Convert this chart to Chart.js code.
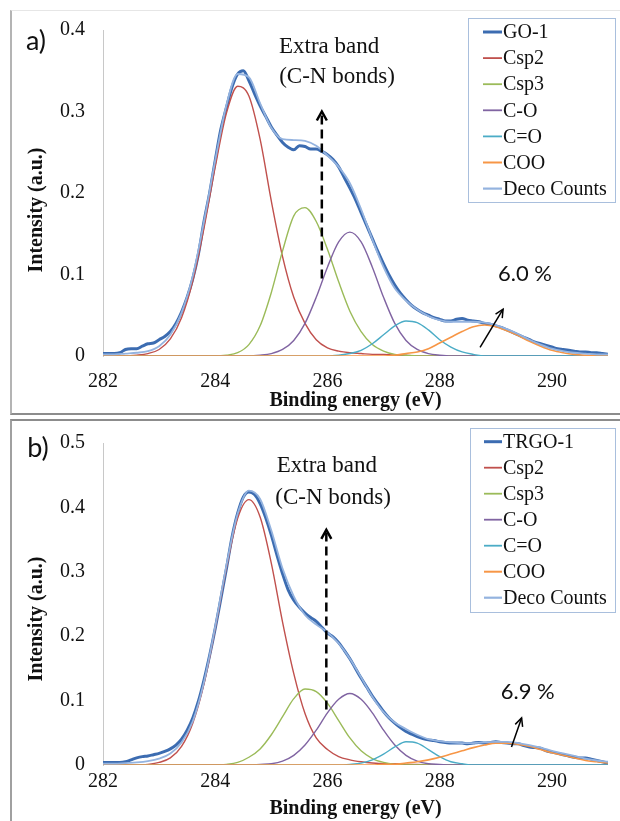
<!DOCTYPE html>
<html><head><meta charset="utf-8">
<script src="https://cdn.jsdelivr.net/npm/chart.js@4.4.1/dist/chart.umd.min.js"></script>
<style>
html,body{margin:0;padding:0;background:#fff;width:620px;height:821px;overflow:hidden;}
#wrap{position:relative;width:620px;height:821px;}
.frame{position:absolute;box-sizing:border-box;}
#frameA{left:10px;top:10px;width:620px;height:405px;border-left:2px solid #b4b4b4;border-top:1px solid #e6e6e6;border-bottom:2px solid #8c8c8c;}
#frameB{left:10px;top:419px;width:620px;height:410px;border-left:2px solid #a0a0a0;border-top:2px solid #8c8c8c;}
canvas{position:absolute;left:0;}
#cA{top:0}
#cB{top:413px}
</style></head><body><div id="wrap">
<div class="frame" id="frameA"></div><div class="frame" id="frameB"></div>
<canvas id="cA" width="620" height="413"></canvas>
<canvas id="cB" width="620" height="408"></canvas>
</div>
<script>
// ---------- data ----------
const energyCoarse = [282.0,282.2,282.4,282.6,282.8,283.0,283.2,283.4,283.6,283.8,
284.0,284.2,284.4,284.6,284.8,285.0,285.2,285.4,285.6,285.8,
286.0,286.2,286.4,286.6,286.8,287.0,287.2,287.4,287.6,287.8,
288.0,288.2,288.4,288.6,288.8,289.0,289.2,289.4,289.6,289.8,
290.0,290.2,290.4,290.6,290.8,291.0];
const energyFine = [282.0,282.1,282.2,282.3,282.4,282.5,282.6,282.7,282.8,282.9,
283.0,283.1,283.2,283.3,283.4,283.5,283.6,283.7,283.8,283.9,
284.0,284.1,284.2,284.3,284.4,284.5,284.6,284.7,284.8,284.9,
285.0,285.1,285.2,285.3,285.4,285.5,285.6,285.7,285.8,285.9,
286.0,286.1,286.2,286.3,286.4,286.5,286.6,286.7,286.8,286.9,
287.0,287.1,287.2,287.3,287.4,287.5,287.6,287.7,287.8,287.9,
288.0,288.1,288.2,288.3,288.4,288.5,288.6,288.7,288.8,288.9,
289.0,289.1,289.2,289.3,289.4,289.5,289.6,289.7,289.8,289.9,
290.0,290.1,290.2,290.3,290.4,290.5,290.6,290.7,290.8,290.9,291.0];

const xTickValues = [282, 284, 286, 288, 290];
const yTicksA = [0, 0.1, 0.2, 0.3, 0.4];
const yTicksB = [0, 0.1, 0.2, 0.3, 0.4, 0.5];

const labelsA = ['GO-1','Csp2','Csp3','C-O','C=O','COO','Deco Counts'];
const labelsB = ['TRGO-1','Csp2','Csp3','C-O','C=O','COO','Deco Counts'];

// panel a
const goA = [0.003,0.003,0.003,0.004,0.008,0.009,0.009,0.012,0.015,0.016,
0.020,0.024,0.030,0.040,0.054,0.072,0.095,0.125,0.165,0.200,
0.240,0.278,0.305,0.330,0.346,0.350,0.338,0.322,0.307,0.294,
0.281,0.271,0.262,0.256,0.253,0.258,0.257,0.254,0.254,0.251,
0.247,0.241,0.232,0.219,0.206,0.192,0.176,0.160,0.144,0.128,
0.113,0.099,0.087,0.077,0.069,0.062,0.057,0.053,0.050,0.047,
0.045,0.043,0.043,0.045,0.046,0.044,0.043,0.042,0.040,0.039,
0.037,0.035,0.032,0.029,0.026,0.023,0.020,0.017,0.015,0.013,
0.011,0.009,0.008,0.007,0.006,0.005,0.005,0.004,0.004,0.003,0.002];
const csp2A = [0,0,0,0.001,0.003,0.008,0.021,0.047,0.092,0.157,
0.232,0.298,0.331,0.319,0.266,0.190,0.122,0.072,0.040,0.020,
0.010,0.006,0.004,0.003,0.002,0.002,0.001,0.001,0,0,
0,0,0,0,0,0,0,0,0,0,0,0,0,0,0,0];
const csp3A = [0,0,0,0,0,0,0,0,0,0,
0,0.001,0.004,0.014,0.037,0.078,0.129,0.172,0.182,0.165,
0.131,0.091,0.055,0.030,0.014,0.006,0.002,0.001,0,0,
0,0,0,0,0,0,0,0,0,0,0,0,0,0,0,0];
const coA = [0,0,0,0,0,0,0,0,0,0,
0,0,0,0,0.001,0.003,0.008,0.019,0.040,0.072,
0.109,0.140,0.152,0.140,0.109,0.072,0.040,0.019,0.008,0.003,
0.001,0,0,0,0,0,0,0,0,0,0,0,0,0,0,0];
const c2oA = [0,0,0,0,0,0,0,0,0,0,
0,0,0,0,0,0,0,0,0,0,
0,0.001,0.003,0.007,0.015,0.026,0.037,0.043,0.041,0.032,
0.020,0.011,0.005,0.002,0,0,0,0,0,0,0,0,0,0,0,0];
const cooA = [0,0,0,0,0,0,0,0,0,0,
0,0,0,0,0,0,0,0,0,0,
0,0,0,0,0,0,0.001,0.003,0.005,0.009,
0.016,0.023,0.030,0.036,0.038,0.036,0.031,0.025,0.018,0.012,
0.007,0.004,0.002,0.001,0,0];
const decoA = [0.002,0.002,0.003,0.004,0.006,0.012,0.026,0.053,0.098,0.165,
0.240,0.308,0.346,0.342,0.310,0.280,0.266,0.265,0.264,0.258,
0.246,0.232,0.212,0.180,0.143,0.109,0.083,0.068,0.057,0.049,
0.044,0.042,0.042,0.042,0.041,0.038,0.033,0.027,0.020,0.014,
0.009,0.006,0.004,0.003,0.002,0.002];

// panel b
const trgoB = [0.004,0.004,0.004,0.004,0.005,0.008,0.011,0.013,0.014,0.016,
0.018,0.021,0.025,0.031,0.040,0.054,0.073,0.099,0.132,0.170,
0.212,0.258,0.305,0.354,0.391,0.416,0.424,0.420,0.406,0.384,
0.357,0.326,0.297,0.272,0.256,0.245,0.236,0.229,0.223,0.214,
0.205,0.199,0.190,0.178,0.165,0.150,0.135,0.121,0.107,0.095,
0.083,0.073,0.065,0.058,0.052,0.048,0.044,0.041,0.039,0.038,
0.036,0.035,0.034,0.034,0.034,0.033,0.034,0.035,0.034,0.035,
0.036,0.035,0.034,0.033,0.033,0.030,0.028,0.027,0.026,0.022,
0.020,0.018,0.016,0.014,0.012,0.011,0.011,0.009,0.007,0.005,0.003];
const csp2B = [0,0,0,0,0.001,0.004,0.011,0.029,0.065,0.126,
0.212,0.306,0.383,0.412,0.385,0.313,0.222,0.142,0.080,0.042,
0.024,0.013,0.008,0.005,0.003,0.002,0.002,0.001,0.001,0,
0,0,0,0,0,0,0,0,0,0,0,0,0,0,0,0];
const csp3B = [0,0,0,0,0,0,0,0,0,0,
0,0.001,0.004,0.012,0.025,0.047,0.075,0.103,0.118,0.114,
0.096,0.069,0.042,0.022,0.010,0.004,0.001,0,0,0,
0,0,0,0,0,0,0,0,0,0,0,0,0,0,0,0];
const coB = [0,0,0,0,0,0,0,0,0,0,
0,0,0,0,0.001,0.002,0.006,0.015,0.031,0.054,
0.081,0.102,0.111,0.102,0.081,0.054,0.031,0.015,0.006,0.002,
0.001,0,0,0,0,0,0,0,0,0,0,0,0,0,0,0];
const c2oB = [0,0,0,0,0,0,0,0,0,0,
0,0,0,0,0,0,0,0,0,0,
0,0,0.001,0.003,0.008,0.017,0.028,0.036,0.034,0.024,
0.013,0.005,0.002,0,0,0,0,0,0,0,0,0,0,0,0,0];
const cooB = [0,0,0,0,0,0,0,0,0,0,
0,0,0,0,0,0,0,0,0,0,
0,0,0,0,0,0.001,0.001,0.003,0.005,0.008,
0.012,0.017,0.022,0.027,0.031,0.034,0.034,0.032,0.029,0.024,
0.019,0.015,0.011,0.007,0.005,0.003];
const decoB = [0.002,0.002,0.003,0.004,0.006,0.010,0.018,0.035,0.068,0.129,
0.215,0.310,0.390,0.426,0.413,0.364,0.305,0.262,0.233,0.218,
0.206,0.189,0.165,0.136,0.106,0.082,0.066,0.056,0.047,0.040,
0.037,0.035,0.034,0.034,0.035,0.036,0.036,0.034,0.031,0.027,
0.022,0.018,0.014,0.010,0.007,0.005];

// ---------- styles ----------
const SERIF = "'Liberation Serif','Times New Roman',serif";
const SANS = "Lato,'Liberation Sans',sans-serif";
const seriesStyle = [
  {color:'#3c6cb1', width:3},
  {color:'#c0504d', width:1.4},
  {color:'#9bbb59', width:1.4},
  {color:'#8064a2', width:1.4},
  {color:'#4bacc6', width:1.4},
  {color:'#f79646', width:1.6},
  {color:'#94b3df', width:1.8}
];

function pts(xs, ys){ return xs.map((x,i)=>({x:x, y:ys[i]})); }

function buildChart(canvasId, P){
  const series = [P.meas, P.csp2, P.csp3, P.co, P.c2o, P.coo, P.deco];
  const xs = [energyFine, energyCoarse, energyCoarse, energyCoarse, energyCoarse, energyCoarse, energyCoarse];
  const datasets = series.map((s,i)=>({
    label: P.labels[i],
    data: pts(xs[i], s),
    borderColor: seriesStyle[i].color,
    backgroundColor: seriesStyle[i].color,
    borderWidth: seriesStyle[i].width,
    pointRadius: 0,
    fill: false,
    cubicInterpolationMode: 'monotone',
    order: i===0 ? 6 : (i===6 ? 0 : 6-i)
  }));

  const overlay = {
    id: 'overlay',
    afterDatasetsDraw(chart){
      const ctx = chart.ctx, xS = chart.scales.x, yS = chart.scales.y;
      const A = P.annot;
      ctx.save();
      ctx.strokeStyle = '#000'; ctx.fillStyle = '#000';
      // dashed vertical arrow
      const ax = xS.getPixelForValue(A.dashX);
      const ay0 = yS.getPixelForValue(A.dashY0);
      const ay1 = yS.getPixelForValue(A.dashY1);
      ctx.lineWidth = 2.5;
      ctx.setLineDash([9,5]);
      ctx.beginPath(); ctx.moveTo(ax, ay0); ctx.lineTo(ax, ay1+3); ctx.stroke();
      ctx.setLineDash([]);
      ctx.beginPath(); ctx.moveTo(ax-5, ay1+9); ctx.lineTo(ax, ay1); ctx.lineTo(ax+5, ay1+9); ctx.stroke();
      // small arrow
      const sx0 = xS.getPixelForValue(A.arrX0), sy0 = yS.getPixelForValue(A.arrY0);
      const sx1 = xS.getPixelForValue(A.arrX1), sy1 = yS.getPixelForValue(A.arrY1);
      ctx.lineWidth = 1.5;
      ctx.beginPath(); ctx.moveTo(sx0, sy0); ctx.lineTo(sx1, sy1); ctx.stroke();
      const ang = Math.atan2(sy1-sy0, sx1-sx0), hl = 9;
      ctx.beginPath();
      ctx.moveTo(sx1 - hl*Math.cos(ang-0.45), sy1 - hl*Math.sin(ang-0.45));
      ctx.lineTo(sx1, sy1);
      ctx.lineTo(sx1 - hl*Math.cos(ang+0.45), sy1 - hl*Math.sin(ang+0.45));
      ctx.stroke();
      // texts
      ctx.textAlign = 'center'; ctx.textBaseline = 'middle';
      ctx.fillStyle = '#111';
      ctx.font = '23px ' + SERIF;
      ctx.fillText(A.t1, xS.getPixelForValue(A.t1X), yS.getPixelForValue(A.t1Y));
      ctx.fillText(A.t2, xS.getPixelForValue(A.t2X), yS.getPixelForValue(A.t2Y));
      ctx.font = '22px ' + SANS;
      ctx.fillText(A.pct, xS.getPixelForValue(A.pctX), yS.getPixelForValue(A.pctY));
      // panel label
      ctx.font = '27px ' + SANS;
      ctx.fillText(P.panel, P.panelPos[0], P.panelPos[1]);
      // y title
      ctx.save();
      ctx.translate(P.yTitlePos[0], P.yTitlePos[1]);
      ctx.rotate(-Math.PI/2);
      ctx.font = 'bold 20px ' + SERIF;
      ctx.fillText('Intensity (a.u.)', 0, 0);
      ctx.restore();
      // legend
      const L = P.legend;
      ctx.fillStyle = '#fff';
      ctx.fillRect(L.x, L.y, L.w, L.h);
      ctx.strokeStyle = '#a9bfdd'; ctx.lineWidth = 1;
      ctx.strokeRect(L.x+0.5, L.y+0.5, L.w, L.h);
      ctx.textAlign = 'left'; ctx.font = '20px ' + SERIF;
      chart.data.datasets.forEach((ds,i)=>{
        const y = L.y0 + i*L.step;
        ctx.strokeStyle = ds.borderColor;
        ctx.lineWidth = Math.min(ds.borderWidth+0.4, 3);
        ctx.beginPath(); ctx.moveTo(L.sx0, y); ctx.lineTo(L.sx1, y); ctx.stroke();
        ctx.fillStyle = '#111';
        ctx.fillText(ds.label, L.tx, y+1);
      });
      ctx.restore();
    }
  };

  return new Chart(document.getElementById(canvasId), {
    type: 'line',
    data: { datasets },
    options: {
      responsive: false, animation: false, devicePixelRatio: 1,
      layout: { padding: { left: 0, right: 12, top: P.padTop, bottom: 0 } },
      plugins: { legend: { display: false }, tooltip: { enabled: false } },
      scales: {
        x: {
          type: 'linear', min: 282, max: 291,
          afterBuildTicks: s => { s.ticks = xTickValues.map(v=>({value:v})); },
          afterFit: s => { s.height = P.xHeight; },
          grid: { display: false, drawTicks: false },
          border: { display: false },
          ticks: { font: { family: SERIF, size: 20 }, color: '#111', padding: P.xPad, maxRotation: 0, autoSkip: false,
                   callback: v => String(v) },
          title: { display: true, text: 'Binding energy (eV)', color: '#111', padding: 0,
                   font: { family: SERIF, size: 20, weight: 'bold' } }
        },
        y: {
          type: 'linear', min: 0, max: P.yTicks[P.yTicks.length-1],
          afterBuildTicks: s => { s.ticks = P.yTicks.map(v=>({value:v})); },
          afterFit: s => { s.width = 103; },
          grid: { display: false, drawTicks: false },
          border: { display: true, color: '#c8c8c8', width: 1 },
          ticks: { font: { family: SERIF, size: 20 }, color: '#111', padding: 18,
                   callback: v => v === 0 ? '0' : Number(v).toFixed(1) }
        }
      }
    },
    plugins: [overlay]
  });
}

buildChart('cA', {
  labels: labelsA, meas: goA, csp2: csp2A, csp3: csp3A, co: coA, c2o: c2oA, coo: cooA, deco: decoA,
  yTicks: yTicksA, padTop: 25, xHeight: 57, xPad: 14,
  panel: 'a)', panelPos: [36, 41], yTitlePos: [37, 210],
  legend: { x: 468, y: 18, w: 147, h: 184, y0: 32, step: 26.1, sx0: 483, sx1: 502, tx: 503 },
  annot: { dashX: 285.9, dashY0: 0.095, dashY1: 0.30,
           t1: 'Extra band', t1X: 286.03, t1Y: 0.379, t2: '(C-N bonds)', t2X: 286.17, t2Y: 0.342,
           pct: '6.0 %', pctX: 289.52, pctY: 0.101,
           arrX0: 288.72, arrY0: 0.0105, arrX1: 289.13, arrY1: 0.0575 }
});

buildChart('cB', {
  labels: labelsB, meas: trgoB, csp2: csp2B, csp3: csp3B, co: coB, c2o: c2oB, coo: cooB, deco: decoB,
  yTicks: yTicksB, padTop: 22, xHeight: 56, xPad: 5,
  panel: 'b)', panelPos: [38, 35], yTitlePos: [37, 206],
  legend: { x: 470, y: 15, w: 145, h: 184, y0: 28.7, step: 26, sx0: 484, sx1: 502, tx: 503 },
  annot: { dashX: 285.98, dashY0: 0.086, dashY1: 0.365,
           t1: 'Extra band', t1X: 285.99, t1Y: 0.464, t2: '(C-N bonds)', t2X: 286.1, t2Y: 0.414,
           pct: '6.9 %', pctX: 289.57, pctY: 0.114,
           arrX0: 289.28, arrY0: 0.028, arrX1: 289.46, arrY1: 0.073 }
});
</script></body></html>
